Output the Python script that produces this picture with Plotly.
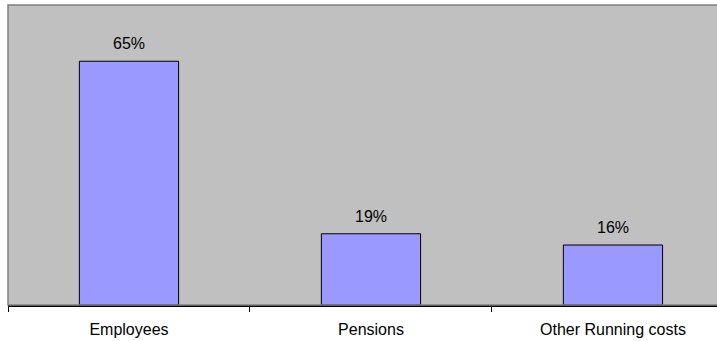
import plotly.graph_objects as go

categories = ["Employees", "Pensions", "Other Running costs"]
values = [0.65, 0.19, 0.16]
labels = ["65%", "19%", "16%"]

fig = go.Figure()
fig.add_trace(go.Bar(
    x=categories, y=values,
    marker=dict(color="#9999FF", line=dict(color="#000000", width=1)),
    width=0.41,
    hoverinfo="skip",
))

for c, v, t in zip(categories, values, labels):
    fig.add_annotation(x=c, y=v, text=t, showarrow=False, yanchor="bottom",
                       yshift=7, font=dict(size=16, color="#000000"))

fig.add_shape(type="rect", xref="paper", yref="paper", x0=0, x1=1.05, y0=0, y1=1,
              line=dict(color="#808080", width=1.5), layer="above")

fig.update_layout(
    width=717, height=341,
    margin=dict(l=8, r=0, t=5, b=36),
    paper_bgcolor="#FFFFFF",
    plot_bgcolor="#C0C0C0",
    font=dict(family="Liberation Sans, Arial, sans-serif", size=16, color="#000000"),
    showlegend=False,
    xaxis=dict(type="category", range=[-0.5, 2.43], tickson="boundaries",
               ticks="outside", ticklen=5, tickcolor="#000000", tickwidth=1,
               ticklabelstandoff=9,
               showline=True, linecolor="#000000", linewidth=1.5,
               showgrid=False, zeroline=False, fixedrange=True),
    yaxis=dict(range=[0, 0.8], visible=False, showgrid=False, zeroline=False,
               fixedrange=True),
)

fig.write_html("out.html", config={"displayModeBar": False})
